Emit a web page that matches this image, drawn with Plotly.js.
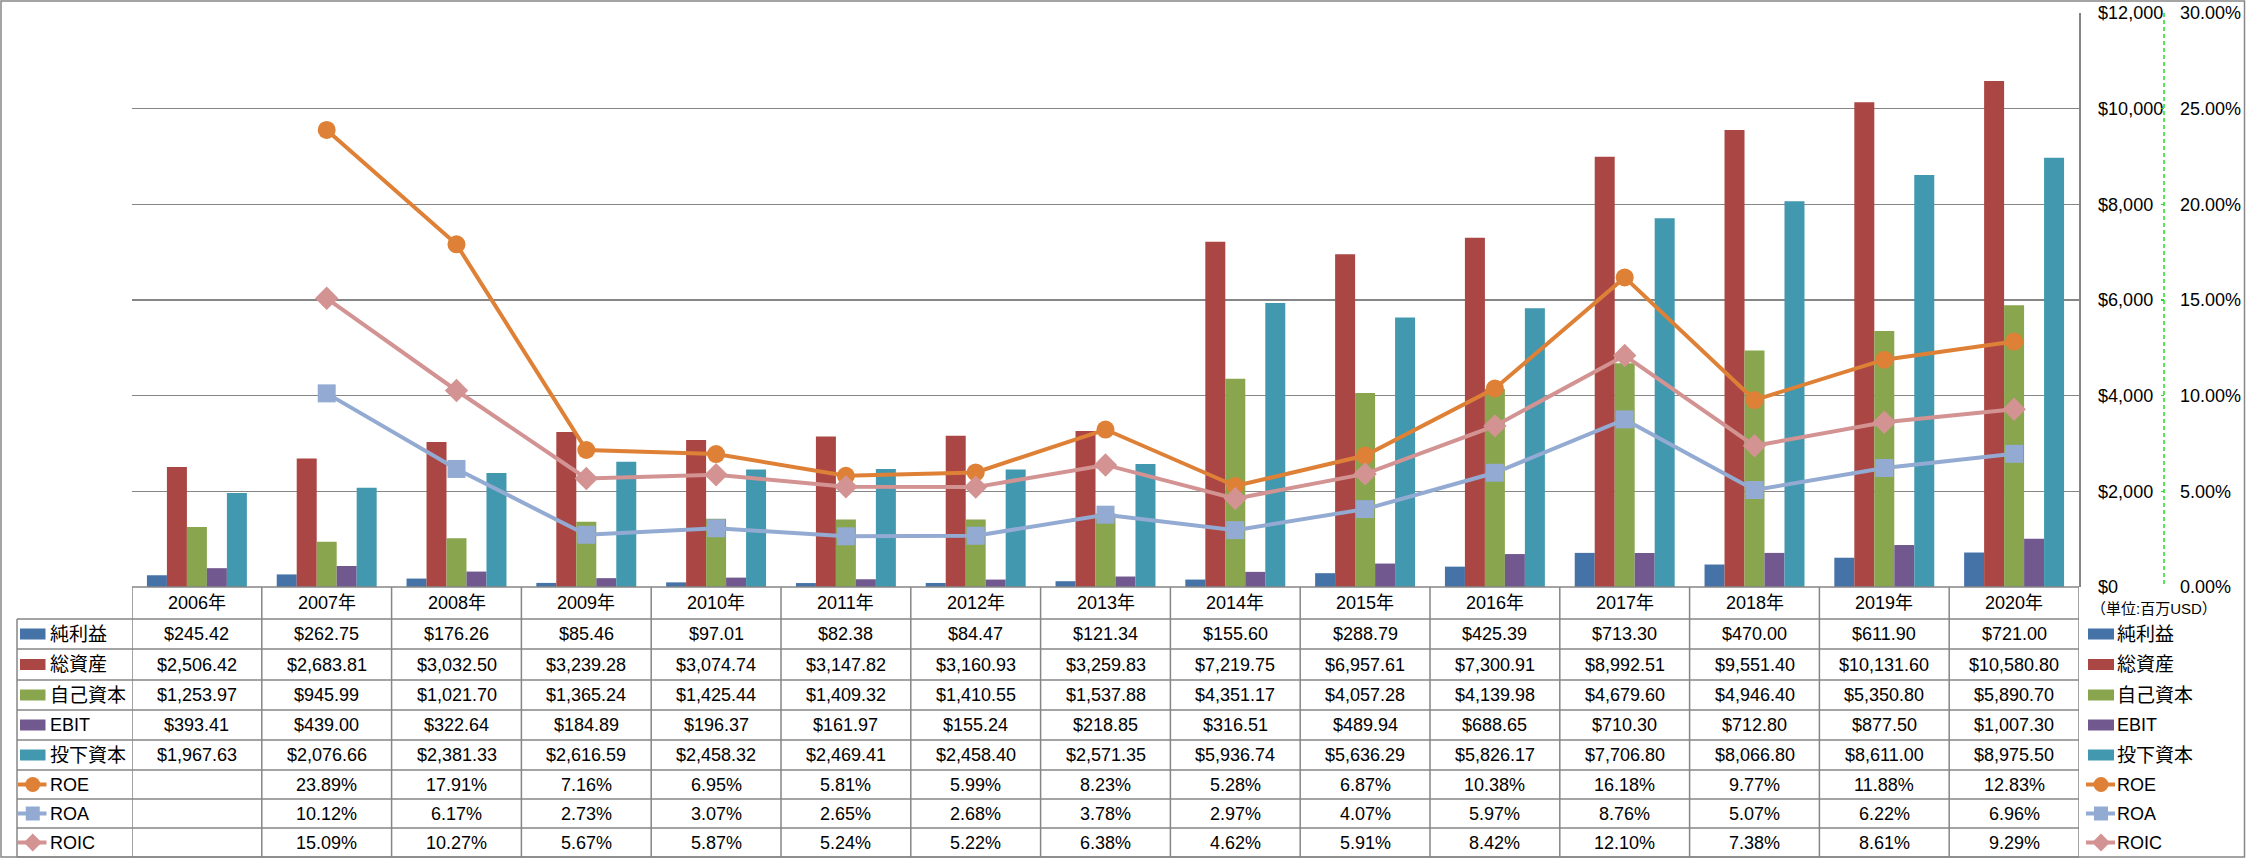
<!DOCTYPE html>
<html>
<head>
<meta charset="utf-8">
<script src="https://cdn.plot.ly/plotly-3.0.1.min.js"></script>
<style>
  html, body { margin: 0; padding: 0; background: #fff; }
  #chart { width: 2246px; height: 858px; }
</style>
</head>
<body>
<div id="chart"></div>
<script>
// ---- Data ----
const years = ['2006年','2007年','2008年','2009年','2010年','2011年','2012年','2013年','2014年','2015年','2016年','2017年','2018年','2019年','2020年'];
const netIncome = [245.42, 262.75, 176.26, 85.46, 97.01, 82.38, 84.47, 121.34, 155.60, 288.79, 425.39, 713.30, 470.00, 611.90, 721.00];
const totalAssets = [2506.42, 2683.81, 3032.50, 3239.28, 3074.74, 3147.82, 3160.93, 3259.83, 7219.75, 6957.61, 7300.91, 8992.51, 9551.40, 10131.60, 10580.80];
const equity = [1253.97, 945.99, 1021.70, 1365.24, 1425.44, 1409.32, 1410.55, 1537.88, 4351.17, 4057.28, 4139.98, 4679.60, 4946.40, 5350.80, 5890.70];
const ebit = [393.41, 439.00, 322.64, 184.89, 196.37, 161.97, 155.24, 218.85, 316.51, 489.94, 688.65, 710.30, 712.80, 877.50, 1007.30];
const investedCapital = [1967.63, 2076.66, 2381.33, 2616.59, 2458.32, 2469.41, 2458.40, 2571.35, 5936.74, 5636.29, 5826.17, 7706.80, 8066.80, 8611.00, 8975.50];
const roe = [null, 23.89, 17.91, 7.16, 6.95, 5.81, 5.99, 8.23, 5.28, 6.87, 10.38, 16.18, 9.77, 11.88, 12.83];
const roa = [null, 10.12, 6.17, 2.73, 3.07, 2.65, 2.68, 3.78, 2.97, 4.07, 5.97, 8.76, 5.07, 6.22, 6.96];
const roic = [null, 15.09, 10.27, 5.67, 5.87, 5.24, 5.22, 6.38, 4.62, 5.91, 8.42, 12.10, 7.38, 8.61, 9.29];

const barNames = ['純利益','総資産','自己資本','EBIT','投下資本'];
const lineNames = ['ROE','ROA','ROIC'];
const barColors = ['#4572A7','#AA4643','#89A54E','#71588F','#4198AF'];
const lineColors = ['#DE8136','#93AAD2','#D39393'];
const lineSymbols = ['circle','square','diamond'];
const unitLabel = '（単位:百万USD）';

// ---- Geometry helpers ----
const W = 2246, H = 858;
const px = x => x / W;
const py = y => 1 - y / H;
const plotL = 132, plotR = 2079, plotT = 13, plotB = 587;
const rowBounds = [587, 619, 649, 680, 710, 740, 770, 799, 828, 857];
const FONT = '"Liberation Sans", "Noto Sans CJK JP", Arial, sans-serif';
const GRID = '#868686';

const barSeries = [netIncome, totalAssets, equity, ebit, investedCapital];
const lineSeries = [roe, roa, roic];

const traces = [];
barSeries.forEach((vals, i) => {
  traces.push({
    type: 'bar', x: years, y: vals, name: barNames[i],
    marker: { color: barColors[i], line: { width: 0 } },
    xaxis: 'x', yaxis: 'y', hoverinfo: 'skip'
  });
});
lineSeries.forEach((vals, i) => {
  traces.push({
    type: 'scatter', mode: 'lines+markers', x: years, y: vals, name: lineNames[i],
    line: { color: lineColors[i], width: 4 },
    marker: { color: lineColors[i], size: 18, symbol: lineSymbols[i] },
    xaxis: 'x', yaxis: 'y2', hoverinfo: 'skip'
  });
});

// ---- Table ----
const fmtMoney = v => '$' + v.toLocaleString('en-US', { minimumFractionDigits: 2, maximumFractionDigits: 2 });
const fmtPct = v => (v === null ? '' : v.toFixed(2) + '%');

const annotations = [];
const shapes = [];

// header (years)
const headerY = py((rowBounds[0] + rowBounds[1]) / 2);
years.forEach(yr => {
  annotations.push({ x: yr, xref: 'x', y: headerY, yref: 'paper', text: yr, showarrow: false,
    xanchor: 'center', yanchor: 'middle', font: { family: FONT, size: 18, color: '#000' } });
});

const allRows = barSeries.map((s, i) => ({ name: barNames[i], vals: s.map(fmtMoney), kind: 'bar', color: barColors[i] }))
  .concat(lineSeries.map((s, i) => ({ name: lineNames[i], vals: s.map(fmtPct), kind: 'line', color: lineColors[i], symbol: lineSymbols[i] })));

function legendKey(x0, x1, yc, row) {
  if (row.kind === 'bar') {
    shapes.push({ type: 'rect', xref: 'paper', yref: 'paper', x0: px(x0), x1: px(x1), y0: py(yc - 5.5), y1: py(yc + 5.5),
      fillcolor: row.color, line: { width: 0 }, layer: 'above' });
  } else {
    shapes.push({ type: 'line', xref: 'paper', yref: 'paper', x0: px(x0 - 2), x1: px(x1 + 1), y0: py(yc), y1: py(yc),
      line: { color: row.color, width: 4 }, layer: 'above' });
    const cx = (x0 + x1) / 2;
    if (row.symbol === 'circle') {
      shapes.push({ type: 'circle', xref: 'paper', yref: 'paper', x0: px(cx - 7.5), x1: px(cx + 7.5), y0: py(yc - 7.5), y1: py(yc + 7.5),
        fillcolor: row.color, line: { width: 0 }, layer: 'above' });
    } else if (row.symbol === 'square') {
      shapes.push({ type: 'rect', xref: 'paper', yref: 'paper', x0: px(cx - 7), x1: px(cx + 7), y0: py(yc - 7), y1: py(yc + 7),
        fillcolor: row.color, line: { width: 0 }, layer: 'above' });
    } else {
      const r = 9;
      const path = `M ${px(cx)} ${py(yc - r)} L ${px(cx + r)} ${py(yc)} L ${px(cx)} ${py(yc + r)} L ${px(cx - r)} ${py(yc)} Z`;
      shapes.push({ type: 'path', xref: 'paper', yref: 'paper', path: path,
        fillcolor: row.color, line: { width: 0 }, layer: 'above' });
    }
  }
}

allRows.forEach((row, r) => {
  const yc = (rowBounds[r + 1] + rowBounds[r + 2]) / 2;
  // values
  row.vals.forEach((t, c) => {
    if (!t) return;
    annotations.push({ x: years[c], xref: 'x', y: py(yc), yref: 'paper', text: t, showarrow: false,
      xanchor: 'center', yanchor: 'middle', font: { family: FONT, size: 18, color: '#000' } });
  });
  // left legend key + label
  legendKey(20, 45.5, yc, row);
  annotations.push({ x: px(48), xref: 'paper', y: py(yc), yref: 'paper', text: row.name, showarrow: false,
    xanchor: 'left', yanchor: 'middle', font: { family: FONT, size: row.kind === 'bar' && row.name !== 'EBIT' ? 19 : 18, color: '#000' } });
  // right legend key + label
  legendKey(2088, 2114, yc, row);
  annotations.push({ x: px(2115), xref: 'paper', y: py(yc), yref: 'paper', text: row.name, showarrow: false,
    xanchor: 'left', yanchor: 'middle', font: { family: FONT, size: row.kind === 'bar' && row.name !== 'EBIT' ? 19 : 18, color: '#000' } });
});

annotations.push({ x: px(2089), xref: 'paper', y: py(608), yref: 'paper', text: unitLabel, showarrow: false,
  xanchor: 'left', yanchor: 'middle', font: { family: FONT, size: 15, color: '#000' } });

// table grid lines
shapes.push({ type: 'line', xref: 'paper', yref: 'paper', x0: px(plotL), x1: px(plotR), y0: py(rowBounds[0]), y1: py(rowBounds[0]),
  line: { color: GRID, width: 1.5 }, layer: 'above' });
for (let i = 1; i < rowBounds.length; i++) {
  shapes.push({ type: 'line', xref: 'paper', yref: 'paper', x0: px(17), x1: px(plotR), y0: py(rowBounds[i]), y1: py(rowBounds[i]),
    line: { color: GRID, width: 1.5 }, layer: 'above' });
}
shapes.push({ type: 'line', xref: 'paper', yref: 'paper', x0: px(17), x1: px(17), y0: py(rowBounds[1]), y1: py(rowBounds[rowBounds.length - 1]),
  line: { color: GRID, width: 1.5 }, layer: 'above' });
for (let k = 0; k <= years.length; k++) {
  shapes.push({ type: 'line', xref: 'x', yref: 'paper', x0: k - 0.5, x1: k - 0.5, y0: py(rowBounds[0]), y1: py(rowBounds[rowBounds.length - 1]),
    line: { color: GRID, width: 1.5 }, layer: 'above' });
}
// green dashed secondary axis line
shapes.push({ type: 'line', xref: 'paper', yref: 'paper', x0: px(2164), x1: px(2164), y0: py(plotT), y1: py(plotB),
  line: { color: '#1EE01E', width: 1.5, dash: '4px,3px' }, layer: 'above' });
// outer chart border
shapes.push({ type: 'rect', xref: 'paper', yref: 'paper', x0: px(1), x1: px(2244.5), y0: py(1), y1: py(857),
  line: { color: GRID, width: 1.5 }, fillcolor: 'rgba(0,0,0,0)', layer: 'above' });

const layout = {
  width: W, height: H,
  margin: { l: 0, r: 0, t: 0, b: 0 },
  paper_bgcolor: '#fff', plot_bgcolor: 'rgba(0,0,0,0)',
  showlegend: false,
  barmode: 'group', bargap: 0.23, bargroupgap: 0,
  font: { family: FONT, size: 18, color: '#000' },
  xaxis: {
    type: 'category', domain: [px(plotL), px(plotR)], anchor: 'y',
    showticklabels: false, showgrid: false, zeroline: false, showline: false, ticks: '',
    range: [-0.5, years.length - 0.5], fixedrange: true
  },
  yaxis: {
    domain: [py(plotB), py(plotT)], anchor: 'x', side: 'right',
    range: [0, 12000], dtick: 2000, tick0: 0,
    tickprefix: '$', tickformat: ',d',
    showgrid: true, gridcolor: GRID, gridwidth: 1.5, zeroline: false,
    showline: true, linecolor: GRID, linewidth: 1.5, ticks: '',
    ticklabelstandoff: 14,
    tickfont: { family: FONT, size: 18, color: '#000' }, fixedrange: true
  },
  yaxis2: {
    overlaying: 'y', side: 'right', anchor: 'free', position: px(2164),
    range: [0, 30], dtick: 5, tick0: 0, tickformat: '.2f', ticksuffix: '%',
    showgrid: false, zeroline: false, showline: false,
    ticks: 'inside', ticklen: 3, tickcolor: '#1EE01E', tickwidth: 1.5,
    ticklabelstandoff: 15,
    tickfont: { family: FONT, size: 18, color: '#000' }, fixedrange: true
  },
  shapes: shapes,
  annotations: annotations
};

Plotly.newPlot('chart', traces, layout, { displayModeBar: false, staticPlot: true });
</script>
</body>
</html>
